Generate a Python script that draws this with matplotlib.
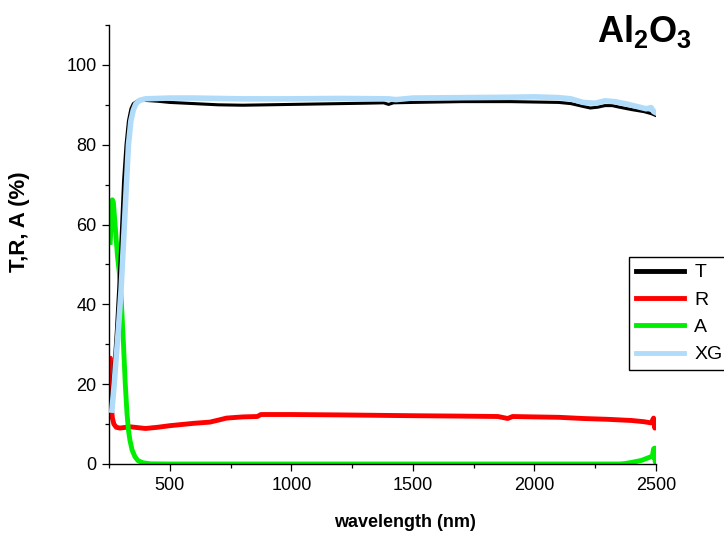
import matplotlib
matplotlib.use("Agg")
import matplotlib.pyplot as plt
from matplotlib.ticker import MultipleLocator

plt.rcParams['font.family'] = ['Liberation Sans', 'DejaVu Sans']
plt.rcParams['mathtext.fontset'] = 'custom'
plt.rcParams['mathtext.rm'] = 'Liberation Sans'
plt.rcParams['mathtext.bf'] = 'Liberation Sans:bold'

# ---- data ----
wl_T = [255, 260, 270, 280, 290, 300, 310, 320, 330, 340, 350, 365, 380, 400, 450, 500,
        600, 700, 800, 900, 1000, 1100, 1200, 1300, 1380, 1400, 1420, 1500, 1600, 1700,
        1800, 1900, 2000, 2100, 2150, 2200, 2230, 2260, 2290, 2320, 2350, 2400, 2450,
        2480, 2500]
T = [15, 17, 24, 33, 44, 57, 71, 80, 86, 89, 90.3, 90.9, 91.1, 91.1, 90.9, 90.6,
     90.3, 90.0, 89.9, 90.0, 90.1, 90.2, 90.3, 90.4, 90.5, 90.1, 90.5, 90.6, 90.7, 90.8,
     90.8, 90.8, 90.7, 90.6, 90.3, 89.6, 89.2, 89.4, 89.8, 89.8, 89.4, 88.8, 88.3,
     87.8, 87.3]

wl_R = [255, 256, 258, 260, 264, 270, 280, 295, 320, 340, 370, 400, 450, 500, 550, 600,
        665, 700, 733, 800, 860, 875, 1000, 1200, 1350, 1500, 1700, 1850, 1890, 1910,
        2000, 2100, 2200, 2300, 2400, 2450, 2480, 2490, 2495, 2500]
R = [26.5, 26.5, 20, 14, 11.5, 10, 9.2, 9.0, 9.2, 9.3, 9.1, 8.9, 9.2, 9.6, 9.9, 10.2,
     10.5, 11.0, 11.5, 11.8, 11.9, 12.4, 12.4, 12.3, 12.2, 12.1, 12.0, 11.9, 11.4, 11.9,
     11.8, 11.7, 11.4, 11.2, 10.9, 10.6, 10.3, 11.5, 9.0, 10.5]

wl_A = [255, 260, 264, 268, 275, 285, 296, 303, 310, 317, 324, 330, 336, 345, 357, 370,
        390, 420, 500, 1000, 1500, 2000, 2350, 2370, 2400, 2440, 2470, 2485, 2490, 2492,
        2495, 2497, 2500]
A = [55.5, 62, 66.2, 65.5, 60, 52, 46, 38, 29.4, 20, 12.7, 8.5, 6, 3.5, 1.8, 0.8,
     0.3, 0.05, 0, 0, 0, 0, 0, 0.1, 0.4, 0.9, 1.6, 2.0, 3.8, 1.5, 4.0, 0.5, 3.5]

wl_XG = [262, 270, 280, 290, 300, 310, 320, 330, 340, 350, 360, 375, 400, 500, 600, 800,
         1000, 1200, 1400, 1430, 1500, 1700, 1900, 2000, 2100, 2150, 2200, 2250, 2290,
         2330, 2380, 2420, 2460, 2480, 2490, 2500]
XG = [13.5, 19, 27, 35, 44, 56, 68, 80, 86, 88.7, 90.2, 91.1, 91.5, 91.7, 91.7, 91.5,
      91.5, 91.6, 91.5, 91.3, 91.7, 91.8, 91.9, 92.0, 91.8, 91.5, 90.6, 90.4, 91.0,
      90.8, 90.2, 89.6, 89.0, 89.3, 88.3, 88.0]

labels = ['T', 'R', 'A', 'XG']
colors = ['#000000', '#ff0000', '#00ee00', '#b0dcfa']

x_ticks = [500, 1000, 1500, 2000, 2500]
y_ticks = [0, 20, 40, 60, 80, 100]

# ---- figure ----
fig = plt.figure(figsize=(7.24, 5.36), dpi=100)
ax = fig.add_axes([109/724, 1-464/536, (656-109)/724, (464-25)/536])

ax.plot(wl_T, T, color=colors[0], lw=2.2, label=labels[0], zorder=3)
ax.plot(wl_R, R, color=colors[1], lw=3.5, label=labels[1], zorder=2)
ax.plot(wl_A, A, color=colors[2], lw=3.5, label=labels[2], zorder=2)
ax.plot(wl_XG, XG, color=colors[3], lw=4, label=labels[3], zorder=4)

ax.set_xlim(250, 2500)
ax.set_ylim(0, 110)
ax.set_xticks(x_ticks)
ax.set_yticks(y_ticks)
ax.xaxis.set_minor_locator(MultipleLocator(250))
ax.yaxis.set_minor_locator(MultipleLocator(10))
ax.tick_params(which='major', direction='out', length=5, width=0.9, labelsize=13, pad=4)
ax.tick_params(which='minor', direction='out', length=3, width=0.9)
for s in ['top', 'right']:
    ax.spines[s].set_visible(False)
for s in ['left', 'bottom']:
    ax.spines[s].set_linewidth(1.0)

ax.set_xlabel('wavelength (nm)', fontsize=13, fontweight='bold')
ax.xaxis.set_label_coords((405-109)/547, -0.115)
ax.set_ylabel('T,R, A (%)', fontsize=16, fontweight='bold')
ax.yaxis.set_label_coords((30-109)/547, (464-222)/439)

leg = fig.legend(loc='upper left', bbox_to_anchor=(629/724, 1-257/536), fontsize=14,
                 frameon=True, fancybox=False, edgecolor='black', framealpha=1,
                 handlelength=2.5, handletextpad=0.5, labelspacing=0.5, borderpad=0.35,
                 borderaxespad=0)
leg.get_frame().set_linewidth(1.0)
for h in leg.get_lines():
    h.set_linewidth(3.5)

fig.text(645/724, 1-31/536, r'$\mathbf{Al_2O_3}$', fontsize=26, ha='center', va='center')

fig.savefig('out.png', dpi=100)
